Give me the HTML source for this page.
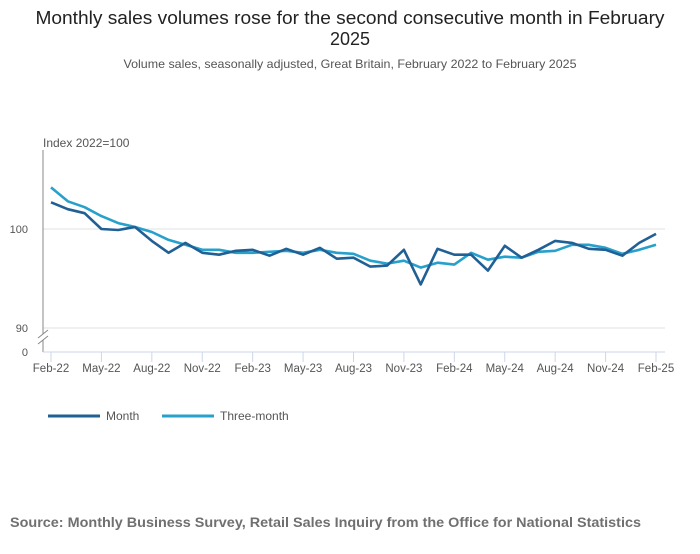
<!DOCTYPE html>
<html><head><meta charset="utf-8"><style>
body{margin:0;background:#fff;width:700px;height:549px;overflow:hidden;font-family:"Liberation Sans",sans-serif;}
</style></head><body>
<svg width="700" height="549" style="font-family:'Liberation Sans',sans-serif">
<text x="350" y="24" text-anchor="middle" font-size="18" fill="#222" textLength="629" lengthAdjust="spacingAndGlyphs">Monthly sales volumes rose for the second consecutive month in February</text>
<text x="350" y="45" text-anchor="middle" font-size="18" fill="#222">2025</text>
<text x="350" y="68" text-anchor="middle" font-size="12" fill="#555" textLength="453" lengthAdjust="spacingAndGlyphs">Volume sales, seasonally adjusted, Great Britain, February 2022 to February 2025</text>
<text x="43" y="147" font-size="12" fill="#555">Index 2022=100</text>
<g id="grid"></g>
<line x1="43" y1="150" x2="43" y2="334" stroke="#888"/>
<line x1="43" y1="340" x2="43" y2="352" stroke="#888"/>
<line x1="38" y1="338" x2="48" y2="330" stroke="#888"/>
<line x1="38" y1="344" x2="48" y2="336" stroke="#888"/>
<line x1="43" y1="352" x2="665" y2="352" stroke="#ccd6eb"/>
<text x="28" y="356" text-anchor="end" font-size="11" fill="#555">0</text>
<g id="xaxis"></g>
<g id="series"></g>
<g>
<g><line x1="48" y1="416" x2="100" y2="416" stroke="#206095" stroke-width="3"/><text x="106" y="420" font-size="12" fill="#555">Month</text></g>
<g><line x1="162" y1="416" x2="214" y2="416" stroke="#27a0cc" stroke-width="3"/><text x="220" y="420" font-size="12" fill="#555">Three-month</text></g>
</g>
<text x="10" y="527" font-size="14" font-weight="bold" fill="#707070" textLength="631" lengthAdjust="spacingAndGlyphs">Source: Monthly Business Survey, Retail Sales Inquiry from the Office for National Statistics</text>
</svg>
<script>
const monthValues=[102.7,102.0,101.6,100.0,99.9,100.2,98.8,97.6,98.6,97.6,97.4,97.8,97.9,97.3,98.0,97.4,98.1,97.0,97.1,96.2,96.3,97.9,94.4,98.0,97.4,97.4,95.8,98.3,97.1,97.9,98.8,98.6,98.0,97.9,97.3,98.6,99.5];
const threeMonthValues=[104.2,102.8,102.2,101.3,100.6,100.2,99.7,98.9,98.4,97.9,97.9,97.6,97.6,97.7,97.8,97.6,97.9,97.6,97.5,96.8,96.5,96.8,96.1,96.6,96.4,97.6,96.9,97.2,97.1,97.7,97.8,98.4,98.4,98.1,97.5,97.9,98.4];
const xTickLabels=["Feb-22","May-22","Aug-22","Nov-22","Feb-23","May-23","Aug-23","Nov-23","Feb-24","May-24","Aug-24","Nov-24","Feb-25"];
const yTickValues=[90,100];
const NS="http://www.w3.org/2000/svg";
function xPos(i){return 51+i*(605/36);}
function yPos(v){return 229-(v-100)*9.9;}
const grid=document.getElementById('grid');
yTickValues.forEach(v=>{
 const l=document.createElementNS(NS,'line');
 l.setAttribute('x1',43);l.setAttribute('x2',665);l.setAttribute('y1',yPos(v));l.setAttribute('y2',yPos(v));l.setAttribute('stroke','#e0e0e0');
 
 
 grid.appendChild(l);
 const t=document.createElementNS(NS,'text');
 t.setAttribute('x',28);t.setAttribute('y',yPos(v)+4);t.setAttribute('text-anchor','end');t.setAttribute('font-size','11');t.setAttribute('fill','#555');t.textContent=v;
 
 
 grid.appendChild(t);
});
const xa=document.getElementById('xaxis');
xTickLabels.forEach((lab,k)=>{
 const x=xPos(k*3);
 const l=document.createElementNS(NS,'line');
 l.setAttribute('x1',x);l.setAttribute('x2',x);l.setAttribute('y1',352);l.setAttribute('y2',362);l.setAttribute('stroke','#ccd6eb');
 
 
 xa.appendChild(l);
 const t=document.createElementNS(NS,'text');
 t.setAttribute('x',x);t.setAttribute('y',372);t.setAttribute('text-anchor','middle');t.setAttribute('font-size','11.5');t.setAttribute('fill','#555');t.textContent=lab;
 
 
 xa.appendChild(t);
});
const sg=document.getElementById('series');
function draw(vals,color,name){
 const p=document.createElementNS(NS,'polyline');
 p.setAttribute('points',vals.map((v,i)=>xPos(i).toFixed(1)+','+yPos(v).toFixed(1)).join(' '));
 p.setAttribute('fill','none');p.setAttribute('stroke',color);p.setAttribute('stroke-width','2.6');p.setAttribute('stroke-linejoin','round');
 
 
 sg.appendChild(p);
}
draw(threeMonthValues,'#27a0cc','three-month-line');
draw(monthValues,'#206095','month-line');
</script>
</body></html>
